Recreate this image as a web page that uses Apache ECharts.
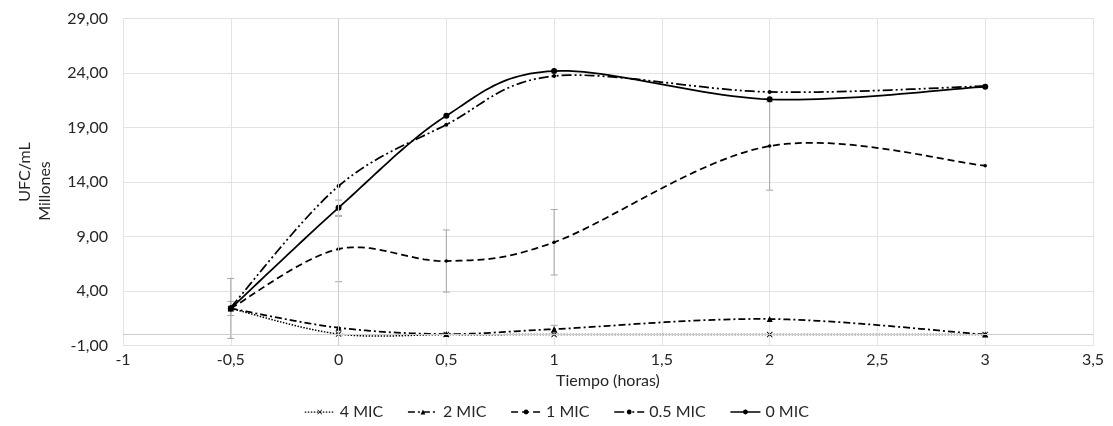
<!DOCTYPE html>
<html>
<head>
<meta charset="utf-8">
<script src="https://cdn.jsdelivr.net/npm/echarts@6/dist/echarts.min.js"></script>
<style>
html,body{margin:0;padding:0;background:#fff;}
#chart{width:1113px;height:426px;}
</style>
</head>
<body>
<div id="chart"></div>
<script>
// ---- data ----
const hours = [-0.5, 0, 0.5, 1, 2, 3];
const mic4  = [2.40, 0.05, 0.00, 0.00, 0.00, 0.00];
const mic2  = [2.40, 0.63, 0.05, 0.50, 1.43, 0.00];
const mic1  = [2.40, 7.85, 6.75, 8.47, 17.30, 15.50];
const mic05 = [2.50, 13.63, 19.26, 23.72, 22.26, 22.80];
const mic0  = [2.40, 11.64, 20.08, 24.18, 21.59, 22.74];
// error (± values)
const err1  = [2.75, 3.00, 2.85, 3.00, 4.05, 0];
const err0  = [0.65, 0.70, 0, 0, 0, 0];
const err2  = [0, 0, 0, 0.35, 0, 0];
const seriesNames = ['4 MIC', '2 MIC', '1 MIC', '0.5 MIC', '0 MIC'];
const xTicks = {min: -1, max: 3.5, step: 0.5};
const yTicks = {min: -1, max: 29, step: 5};

const FONT = 'Lato';
const pair = arr => hours.map((h, i) => [h, arr[i]]);

const errData = [];
[[mic1, err1], [mic0, err0], [mic2, err2]].forEach(([vals, errs]) => {
  hours.forEach((h, i) => {
    if (errs[i] > 0) errData.push([h, vals[i] - errs[i], vals[i] + errs[i]]);
  });
});

const xSym = 'path://M0,1 L1,0 L5,4 L9,0 L10,1 L6,5 L10,9 L9,10 L5,6 L1,10 L0,9 L4,5Z';

// Excel-like smoothing (Catmull-Rom style Bezier) computed in pixel space
function smoothPixels(pts) {
  const out = [];
  const N = 24;
  for (let i = 0; i < pts.length - 1; i++) {
    const p0 = pts[Math.max(i - 1, 0)], p1 = pts[i], p2 = pts[i + 1], p3 = pts[Math.min(i + 2, pts.length - 1)];
    const c1 = [p1[0] + (p2[0] - p0[0]) / 6, p1[1] + (p2[1] - p0[1]) / 6];
    const c2 = [p2[0] - (p3[0] - p1[0]) / 6, p2[1] - (p3[1] - p1[1]) / 6];
    for (let k = (i === 0 ? 0 : 1); k <= N; k++) {
      const t = k / N, u = 1 - t;
      const a = u * u * u, b = 3 * u * u * t, c = 3 * u * t * t, d = t * t * t;
      out.push([a * p1[0] + b * c1[0] + c * c2[0] + d * p2[0],
                a * p1[1] + b * c1[1] + c * c2[1] + d * p2[1]]);
    }
  }
  return out;
}

function curveSeries(name, vals, dash, width) {
  return {
    type: 'custom', name: name + ' curve', silent: true, z: 3,
    data: pair(vals), encode: {x: 0, y: 1},
    renderItem: (params, api) => {
      if (params.dataIndex !== 0) return null;
      const pts = hours.map((h, j) => api.coord([h, vals[j]]));
      return {
        type: 'polyline',
        shape: {points: smoothPixels(pts)},
        style: {stroke: '#000', lineWidth: width, lineDash: dash === 'solid' ? null : dash, fill: null}
      };
    }
  };
}

function markerSeries(name, vals, symbol, size) {
  return {
    name, type: 'line', data: pair(vals),
    symbol, symbolSize: size,
    lineStyle: {opacity: 0, width: 0},
    itemStyle: {color: '#000'},
    z: 4
  };
}

const styles = {
  '4 MIC':   {dash: [1.5, 1.5], width: 1.5, symbol: xSym, size: 6},
  '2 MIC':   {dash: [7, 3, 2, 3], width: 1.75, symbol: 'triangle', size: 6},
  '1 MIC':   {dash: [7, 4], width: 1.75, symbol: 'circle', size: 3.5},
  '0.5 MIC': {dash: [10, 3, 2, 3, 2, 3], width: 1.75, symbol: 'circle', size: 4},
  '0 MIC':   {dash: 'solid', width: 1.75, symbol: 'circle', size: 6}
};
const valsByName = {'4 MIC': mic4, '2 MIC': mic2, '1 MIC': mic1, '0.5 MIC': mic05, '0 MIC': mic0};

const lineSeriesList = [];
seriesNames.forEach(n => {
  const s = styles[n];
  lineSeriesList.push(curveSeries(n, valsByName[n], s.dash, s.width));
  lineSeriesList.push(markerSeries(n, valsByName[n], s.symbol, s.size));
});

const chart = echarts.init(document.getElementById('chart'), null, {renderer: 'canvas'});
const option = {
  animation: false,
  backgroundColor: '#fff',
  textStyle: {fontFamily: FONT},
  grid: {left: 123, right: 20, top: 18.5, bottom: 80.5, containLabel: false},
  legend: {
    bottom: 1, left: 'center',
    itemWidth: 30, itemHeight: 6, itemGap: 24,
    textStyle: {fontFamily: FONT, fontSize: 16, color: '#262626'},
    data: seriesNames.map(n => ({
      name: n,
      lineStyle: {opacity: 1, color: '#000', width: styles[n].width - 0.25,
        type: styles[n].dash === 'solid' ? 'solid' : styles[n].dash}
    }))
  },
  xAxis: {
    type: 'value', min: xTicks.min, max: xTicks.max, interval: xTicks.step,
    name: 'Tiempo (horas)', nameLocation: 'middle', nameGap: 27,
    nameTextStyle: {fontFamily: FONT, fontSize: 16, color: '#262626'},
    axisLine: {show: false}, axisTick: {show: false},
    axisLabel: {fontFamily: FONT, fontSize: 16, color: '#262626', margin: 6,
      formatter: v => String(v).replace('.', ',')},
    splitLine: {show: true, lineStyle: {color: '#e3e3e3', width: 1}}
  },
  yAxis: {
    type: 'value', min: yTicks.min, max: yTicks.max, interval: yTicks.step,
    axisLine: {show: false}, axisTick: {show: false},
    axisLabel: {fontFamily: FONT, fontSize: 16, color: '#262626', margin: 15,
      formatter: v => v.toFixed(2).replace('.', ',')},
    splitLine: {show: true, lineStyle: {color: '#e3e3e3', width: 1}}
  },
  graphic: [
    {type: 'text', x: 25, y: 172, rotation: Math.PI / 2,
      style: {text: 'UFC/mL', font: '16px ' + FONT, fill: '#262626', align: 'center', verticalAlign: 'middle'}},
    {type: 'text', x: 45, y: 191, rotation: Math.PI / 2,
      style: {text: 'Millones', font: '16px ' + FONT, fill: '#262626', align: 'center', verticalAlign: 'middle'}}
  ],
  series: [
    {
      type: 'custom', name: 'err', silent: true, z: 2,
      data: errData,
      encode: {x: 0, y: [1, 2]},
      renderItem: (params, api) => {
        const x = api.value(0), lo = api.value(1), hi = api.value(2);
        const p1 = api.coord([x, hi]), p2 = api.coord([x, lo]);
        const w = 3.5;
        const st = {stroke: '#a6a6a6', lineWidth: 1};
        return {type: 'group', children: [
          {type: 'line', shape: {x1: p1[0], y1: p1[1], x2: p2[0], y2: p2[1]}, style: st},
          {type: 'line', shape: {x1: p1[0] - w, y1: p1[1], x2: p1[0] + w, y2: p1[1]}, style: st},
          {type: 'line', shape: {x1: p2[0] - w, y1: p2[1], x2: p2[0] + w, y2: p2[1]}, style: st}
        ]};
      }
    },
    {
      type: 'line', name: 'axes', silent: true, data: [], z: 1,
      markLine: {
        silent: true, symbol: 'none', label: {show: false},
        lineStyle: {color: '#cccccc', width: 1, type: 'solid'},
        data: [{yAxis: 0}, {xAxis: 0}]
      }
    }
  ].concat(lineSeriesList)
};
chart.setOption(option);
</script>
</body>
</html>
